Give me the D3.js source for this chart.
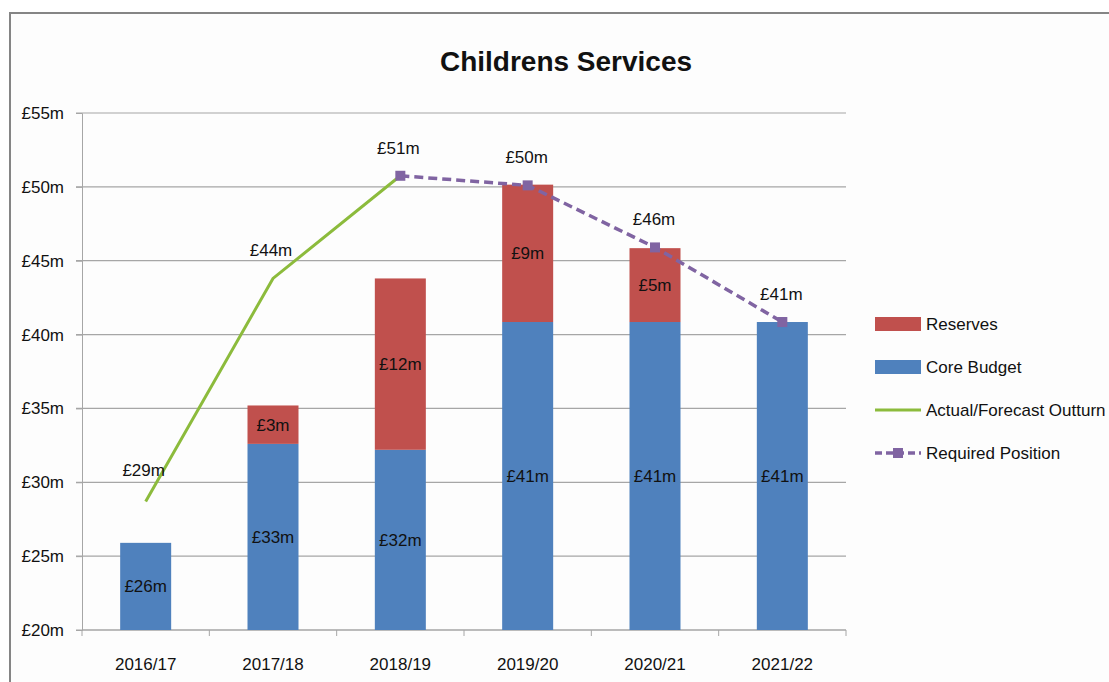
<!DOCTYPE html>
<html>
<head>
<meta charset="utf-8">
<script src="https://cdn.jsdelivr.net/npm/d3@7"></script>
<style>
  body { margin: 0; background: #fff; }
  svg text { font-family: "Liberation Sans", Arial, sans-serif; fill: #111; }
</style>
</head>
<body>
<div class="chart"></div>
<script>
var years = ['2016/17', '2017/18', '2018/19', '2019/20', '2020/21', '2021/22'];
var coreBudget = [25.9, 32.6, 32.2, 40.85, 40.85, 40.85];
var reserves = [0, 2.6, 11.6, 9.3, 5.0, 0];
var coreLabels = ['£26m', '£33m', '£32m', '£41m', '£41m', '£41m'];
var reserveLabels = ['', '£3m', '£12m', '£9m', '£5m', ''];
var outturn = [28.7, 43.8, 50.75];           // 2016/17 .. 2018/19
var outturnLabels = ['£29m', '£44m', '£51m'];
var required = [50.75, 50.1, 45.9, 40.85];    // 2018/19 .. 2021/22
var requiredLabels = ['', '£50m', '£46m', '£41m'];
var yTicks = [20, 25, 30, 35, 40, 45, 50, 55];

var W = 1109, H = 682;
var margin = { top: 113, right: 263, bottom: 52, left: 82 };

var svg = d3.select('.chart')
  .append('svg')
  .attr('width', W)
  .attr('height', H);

// outer frame
svg.append('rect')
  .attr('x', 10).attr('y', 13)
  .attr('width', W + 20).attr('height', H + 20)
  .attr('fill', '#fdfdfd')
  .attr('stroke', '#858585')
  .attr('stroke-width', 2);

svg.append('text')
  .attr('x', 566).attr('y', 71)
  .attr('text-anchor', 'middle')
  .style('font-size', '28px')
  .style('font-weight', 'bold')
  .text('Childrens Services');

var xScale = d3.scaleBand()
  .domain(years)
  .range([margin.left, W - margin.right])
  .paddingInner(0.6)
  .paddingOuter(0.3);

var yScale = d3.scaleLinear()
  .domain([20, 55])
  .range([H - margin.bottom, margin.top]);

var cx = d => xScale(d) + xScale.bandwidth() / 2;

// gridlines
svg.append('g')
  .selectAll('line')
  .data(yTicks)
  .enter()
  .append('line')
  .attr('x1', margin.left - 6)
  .attr('x2', W - margin.right)
  .attr('y1', d => yScale(d))
  .attr('y2', d => yScale(d))
  .attr('stroke', '#a6a6a6')
  .attr('stroke-width', 1.2);

var yAxis = g => g
  .attr('transform', `translate(${margin.left},0)`)
  .call(d3.axisLeft(yScale).tickValues(yTicks).tickFormat(d => '£' + d + 'm').tickSize(6).tickPadding(12))
  .call(g => g.selectAll('line, path').attr('stroke', '#a6a6a6'))
  .call(g => g.selectAll('text').style('font-size', '17px').attr('fill', '#111'));

svg.append('g').call(yAxis);

// x axis with ticks between categories
var xEdges = d3.range(years.length + 1).map(i => margin.left + i * (W - margin.left - margin.right) / years.length);
svg.append('line')
  .attr('x1', margin.left).attr('x2', W - margin.right)
  .attr('y1', yScale(20)).attr('y2', yScale(20))
  .attr('stroke', '#a6a6a6').attr('stroke-width', 1.2);
svg.append('g')
  .selectAll('line')
  .data(xEdges)
  .enter()
  .append('line')
  .attr('x1', d => d).attr('x2', d => d)
  .attr('y1', yScale(20)).attr('y2', yScale(20) + 6)
  .attr('stroke', '#a6a6a6');
svg.append('g')
  .selectAll('text')
  .data(years)
  .enter()
  .append('text')
  .attr('x', d => cx(d))
  .attr('y', yScale(20) + 40)
  .attr('text-anchor', 'middle')
  .style('font-size', '17px')
  .text(d => d);

// stacked bars
var bw = 51;
svg.append('g')
  .selectAll('rect')
  .data(years)
  .enter()
  .append('rect')
  .attr('x', d => cx(d) - bw / 2)
  .attr('width', bw)
  .attr('y', (d, i) => yScale(coreBudget[i]))
  .attr('height', (d, i) => yScale(20) - yScale(coreBudget[i]))
  .attr('fill', '#4f81bd');

svg.append('g')
  .selectAll('rect')
  .data(years)
  .enter()
  .append('rect')
  .attr('x', d => cx(d) - bw / 2)
  .attr('width', bw)
  .attr('y', (d, i) => yScale(coreBudget[i] + reserves[i]))
  .attr('height', (d, i) => yScale(coreBudget[i]) - yScale(coreBudget[i] + reserves[i]))
  .attr('fill', '#c0504d');

// bar labels
svg.append('g')
  .selectAll('text')
  .data(years)
  .enter()
  .append('text')
  .attr('x', d => cx(d))
  .attr('y', (d, i) => (yScale(20) + yScale(coreBudget[i])) / 2 + 6)
  .attr('text-anchor', 'middle')
  .style('font-size', '17px')
  .text((d, i) => coreLabels[i]);

svg.append('g')
  .selectAll('text')
  .data(years)
  .enter()
  .append('text')
  .attr('x', d => cx(d))
  .attr('y', (d, i) => (yScale(coreBudget[i]) + yScale(coreBudget[i] + reserves[i])) / 2 + 6)
  .attr('text-anchor', 'middle')
  .style('font-size', '17px')
  .text((d, i) => reserveLabels[i]);

// outturn line
var outYears = years.slice(0, 3);
var line = d3.line()
  .x(d => cx(d[0]))
  .y(d => yScale(d[1]));

svg.append('path')
  .attr('d', line(outYears.map((d, i) => [d, outturn[i]])))
  .attr('stroke', '#8cbb3c')
  .attr('stroke-width', 3)
  .attr('fill', 'none');

// required position line
var reqYears = years.slice(2);
svg.append('path')
  .attr('d', line(reqYears.map((d, i) => [d, required[i]])))
  .attr('stroke', '#8064a2')
  .attr('stroke-width', 3.5)
  .attr('stroke-dasharray', '9,5')
  .attr('fill', 'none');

svg.append('g')
  .selectAll('rect')
  .data(reqYears)
  .enter()
  .append('rect')
  .attr('x', d => cx(d) - 5)
  .attr('y', (d, i) => yScale(required[i]) - 5)
  .attr('width', 10).attr('height', 10)
  .attr('fill', '#8064a2');

// line labels
svg.append('g')
  .selectAll('text')
  .data(outYears)
  .enter()
  .append('text')
  .attr('x', d => cx(d) - 2)
  .attr('y', (d, i) => yScale(outturn[i]) - (i === 0 ? 25 : 22))
  .attr('text-anchor', 'middle')
  .style('font-size', '17px')
  .text((d, i) => outturnLabels[i]);

svg.append('g')
  .selectAll('text')
  .data(reqYears)
  .enter()
  .append('text')
  .attr('x', d => cx(d) - 1)
  .attr('y', (d, i) => yScale(required[i]) - 22)
  .attr('text-anchor', 'middle')
  .style('font-size', '17px')
  .text((d, i) => requiredLabels[i]);

// legend
var legend = [
  { name: 'Reserves', type: 'bar', color: '#c0504d' },
  { name: 'Core Budget', type: 'bar', color: '#4f81bd' },
  { name: 'Actual/Forecast Outturn', type: 'line', color: '#8cbb3c' },
  { name: 'Required Position', type: 'dash', color: '#8064a2' }
];
var lg = svg.append('g')
  .selectAll('g')
  .data(legend)
  .enter()
  .append('g')
  .attr('transform', (d, i) => `translate(875, ${324 + i * 43})`);

lg.filter(d => d.type === 'bar').append('rect')
  .attr('x', 0).attr('y', -7).attr('width', 46).attr('height', 14)
  .attr('fill', d => d.color);
lg.filter(d => d.type === 'line').append('line')
  .attr('x1', 0).attr('x2', 46).attr('y1', 0).attr('y2', 0)
  .attr('stroke', d => d.color).attr('stroke-width', 3);
lg.filter(d => d.type === 'dash').append('line')
  .attr('x1', 0).attr('x2', 46).attr('y1', 0).attr('y2', 0)
  .attr('stroke', d => d.color).attr('stroke-width', 3.5)
  .attr('stroke-dasharray', '7,4');
lg.filter(d => d.type === 'dash').append('rect')
  .attr('x', 18).attr('y', -5).attr('width', 10).attr('height', 10)
  .attr('fill', d => d.color);
lg.append('text')
  .attr('x', 51).attr('y', 6)
  .style('font-size', '17px')
  .text(d => d.name);
</script>
</body>
</html>
